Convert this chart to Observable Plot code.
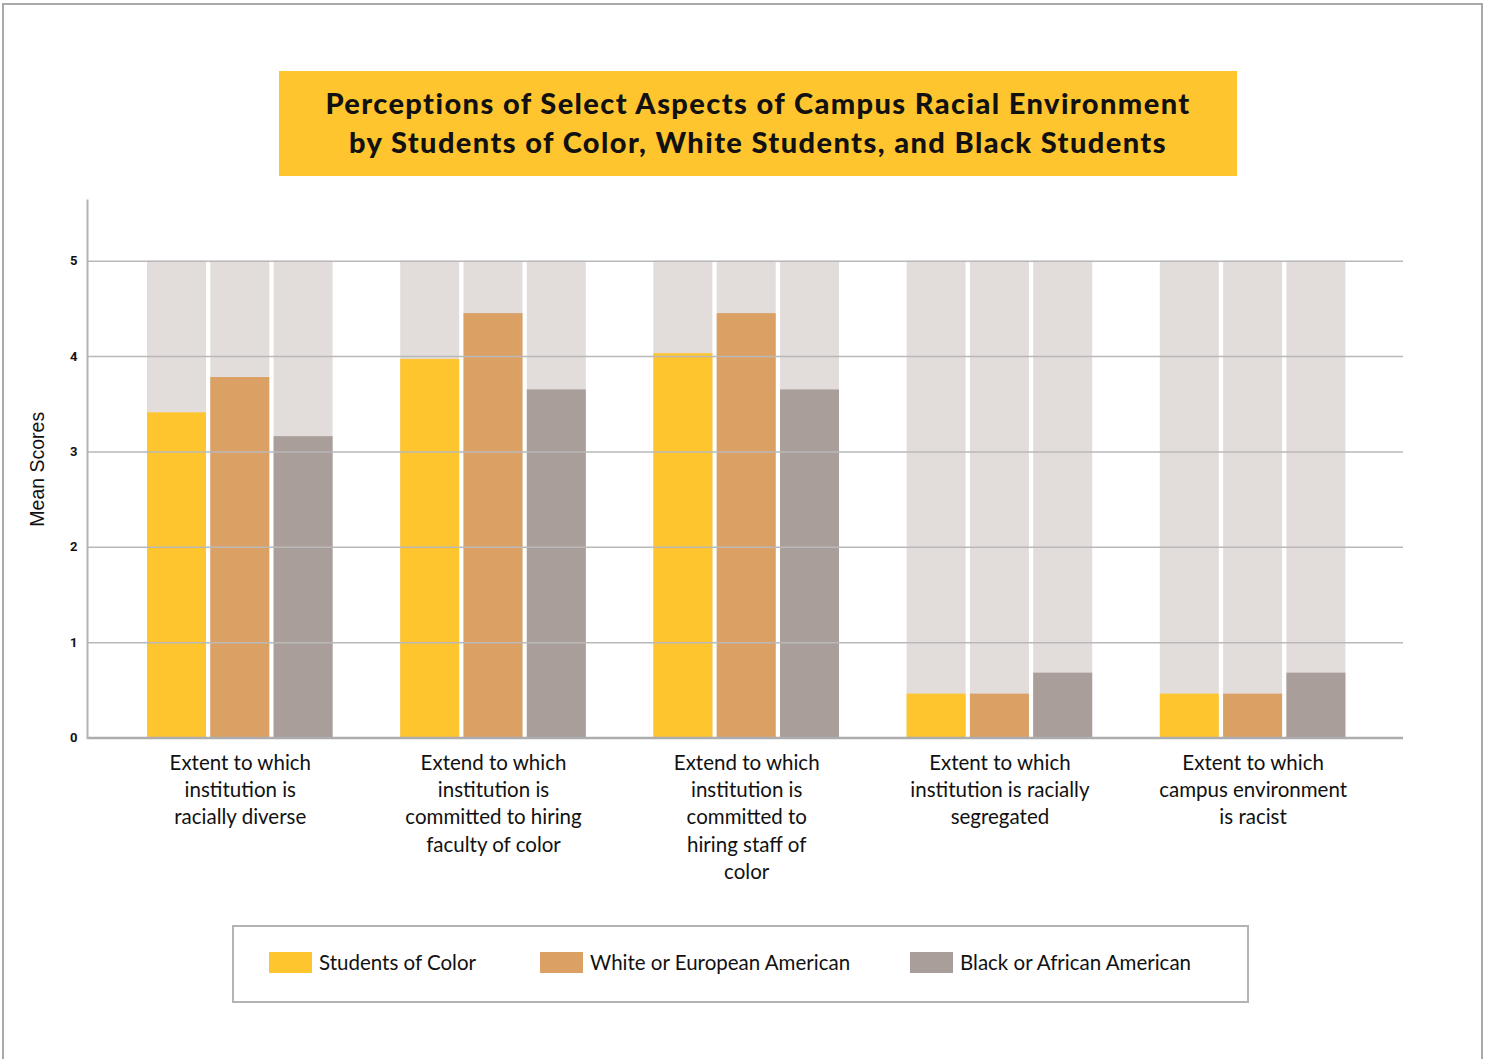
<!DOCTYPE html>
<html>
<head>
<meta charset="utf-8">
<script src="https://cdn.jsdelivr.net/npm/d3@7"></script>
<script src="https://cdn.jsdelivr.net/npm/@observablehq/plot@0.6"></script>
<style>
  html, body { margin: 0; padding: 0; background: #fff; }
  #page { position: relative; width: 1485px; height: 1059px; overflow: hidden; background: #fff; }
  #border { position: absolute; left: 2px; top: 3px; width: 1481px; height: 1100px; border: 2px solid #a9a9ab; border-bottom: none; box-sizing: border-box; }
  #title { position: absolute; left: 279px; top: 71px; width: 958px; height: 105px; background: #fec52e;
           display: flex; align-items: center; justify-content: center; text-align: center;
           font-family: Lato, "Open Sans", sans-serif; font-weight: 900; font-size: 29px; letter-spacing: 1.4px; line-height: 39px; color: #111; }
  #title > div { margin-top: -3px; }
  #chart { position: absolute; left: 0; top: 190px; }
  #legend { position: absolute; left: 232px; top: 925px; width: 1017px; height: 78px; border: 2px solid #b4b4b6; box-sizing: border-box; }
  .item { position: absolute; top: 23px; display: flex; align-items: center; font-family: Lato, "Open Sans", sans-serif; font-size: 20.5px; color: #111; }
  .sw { width: 43px; height: 21px; margin-right: 7px; }
</style>
</head>
<body>
<div id="page">
  <div id="border"></div>
  <div id="title"><div>Perceptions of Select Aspects of Campus Racial Environment<br>by Students of Color, White Students, and Black Students</div></div>
  <div id="chart"></div>
  <div id="legend"></div>
</div>
<script>
// ---- data ----
const categories = [
  "Extent to which\ninstitution is\nracially diverse",
  "Extend to which\ninstitution is\ncommitted to hiring\nfaculty of color",
  "Extend to which\ninstitution is\ncommitted to\nhiring staff of\ncolor",
  "Extent to which\ninstitution is racially\nsegregated",
  "Extent to which\ncampus environment\nis racist"
];
const series = ["Students of Color", "White or European American", "Black or African American"];
const seriesColors = ["#fec52e", "#dba063", "#a99e99"];
const studentsOfColor = [3.41, 3.97, 4.03, 0.46, 0.46];
const whiteStudents   = [3.78, 4.45, 4.45, 0.46, 0.46];
const blackStudents   = [3.16, 3.65, 3.65, 0.68, 0.68];
const maxScore = 5;
const yTicks = [0, 1, 2, 3, 4, 5];

// ---- build table ----
const valuesBySeries = [studentsOfColor, whiteStudents, blackStudents];
const rows = [];
categories.forEach((c, i) => {
  series.forEach((s, j) => rows.push({category: c, series: s, key: c + "|" + s, value: valuesBySeries[j][i]}));
});
const xDomain = categories.flatMap((c, i) => [...series.map(s => c + "|" + s), ...(i < categories.length - 1 ? [c + "|gap"] : [])]);
const labelRows = categories.map(c => ({key: c + "|" + series[1], label: c}));

const H = 710;
const chart = Plot.plot({
  width: 1485,
  height: H,
  marginLeft: 87,
  marginRight: 82,
  marginTop: 10,
  marginBottom: H - 547.5,
  x: {domain: xDomain, range: [147, 1345.4], paddingInner: 0.068, paddingOuter: 0, round: false, axis: null},
  y: {domain: [0, maxScore], range: [547.5, 70.7], axis: null},
  color: {domain: series, range: seriesColors},
  style: {fontFamily: "Lato, 'Open Sans', sans-serif", background: "transparent"},
  marks: [
    Plot.barY(rows, {x: "key", y1: 0, y2: maxScore, fill: "#e2dddb"}),
    Plot.barY(rows, {x: "key", y1: 0, y2: "value", fill: "series"}),
    Plot.gridY(yTicks.slice(1), {stroke: "#b9b9b9", strokeOpacity: 1, strokeWidth: 1.5}),
    Plot.ruleY([0], {stroke: "#adadb0", strokeWidth: 2.5}),
    Plot.frame({anchor: "left", stroke: "#b4b4b6", strokeWidth: 2}),
    Plot.axisY({ticks: yTicks, tickFormat: d => String(d), tickSize: 0, tickPadding: 10, fontSize: 13, fontWeight: 700, fill: "#111",
                fontFamily: "Roboto, sans-serif", label: null}),
    Plot.text(["Mean Scores"], {frameAnchor: "left", dx: -50, rotate: -90, textAnchor: "middle", text: d => d,
                fontSize: 19.5, fill: "#111", fontFamily: "'Liberation Sans', Arial, sans-serif"}),
    Plot.text(labelRows, {x: "key", y: 0, text: "label", lineAnchor: "top", dy: 12, fontSize: 20.5,
                lineHeight: 1.34, fill: "#111"})
  ]
});
document.getElementById("chart").appendChild(chart);

// ---- legend ----
const legendX = [35, 306, 676];
const legend = document.getElementById("legend");
series.forEach((s, i) => {
  const item = document.createElement("div");
  item.className = "item";
  item.style.left = legendX[i] + "px";
  const sw = document.createElement("div");
  sw.className = "sw";
  sw.style.background = seriesColors[i];
  const t = document.createElement("span");
  t.textContent = s;
  item.appendChild(sw);
  item.appendChild(t);
  legend.appendChild(item);
});
</script>
</body>
</html>
